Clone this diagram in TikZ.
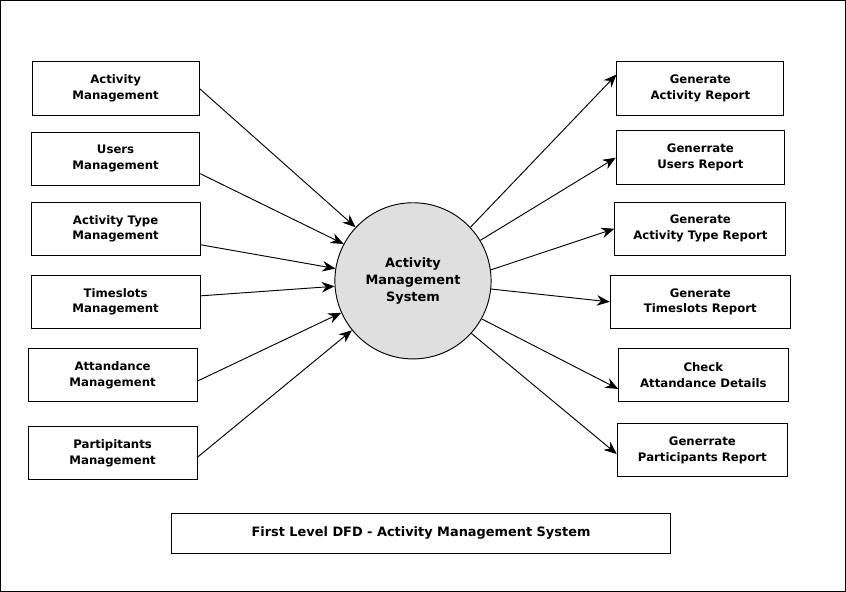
\documentclass[tikz,border=0pt]{standalone}
\usepackage{fontspec}
\setmainfont{DejaVu Sans}
\usetikzlibrary{shapes,arrows.meta,positioning}

\tikzset{
    proc/.style={rectangle, draw, thick, minimum width=5cm, minimum height=1.6cm, align=center, font=\bfseries\fontsize{10}{13.5}\selectfont},
    flow/.style={-{Stealth[length=11pt,width=9pt]}, thick}
}

\begin{document}
\begin{tikzpicture}[x=0.03cm, y=-0.03cm]
    % Frame
    \draw [thick] (1,1) rectangle (845,591);

    % Sources
    \node [proc, minimum width=5.0cm] (act) at (116,89) {Activity\\Management};
    \node [proc, minimum width=5.04cm] (usr) at (116,159) {Users\\Management};
    \node [proc, minimum width=5.07cm] (atype) at (116,229) {Activity Type\\Management};
    \node [proc, minimum width=5.07cm] (slot) at (116,302) {Timeslots\\Management};
    \node [proc, minimum width=5.07cm] (att) at (113,375) {Attandance\\Management};
    \node [proc, minimum width=5.07cm] (part) at (113,453) {Partipitants\\Management};

    % Process
    \node [circle, draw, thick, fill=gray!25, minimum size=4.68cm, align=center, font=\bfseries\fontsize{11}{14.5}\selectfont] (ams) at (413,281) {Activity\\Management\\System};

    % Reports
    \node [proc, minimum width=5.0cm] (ract) at (700,89) {Generate\\Activity Report};
    \node [proc, minimum width=5.04cm] (rusr) at (700,158) {Generrate\\Users Report};
    \node [proc, minimum width=5.13cm] (rtype) at (700,229) {Generate\\Activity Type Report};
    \node [proc, minimum width=5.4cm] (rslot) at (700,302) {Generate\\Timeslots Report};
    \node [proc, minimum width=5.07cm] (ratt) at (703,375) {Check\\Attandance Details};
    \node [proc, minimum width=5.1cm] (rpart) at (702,450) {Generrate\\Participants Report};

    % Title
    \node [rectangle, draw, thick, minimum width=14.97cm, minimum height=1.2cm, font=\bfseries\fontsize{11}{13}\selectfont] (title) at (421,533) {First Level DFD - Activity Management System};

    % Flows in
    \draw [flow] (act.east) -- (ams.137);
    \draw [flow] (usr.east) ++(0,15) -- (ams.152);
    \draw [flow] (atype.east) ++(0,16) -- (ams.171);
    \draw [flow] (slot.east) ++(0,-6) -- (ams.184);
    \draw [flow] (att.east) ++(0,6) -- (ams.204);
    \draw [flow] (part.east) ++(0,4) -- (ams.219);

    % Flows out
    \draw [flow] (ams.43) -- ([yshift=14*0.03cm]ract.west);
    \draw [flow] (ams.31) -- (rusr.west);
    \draw [flow] (ams.8) -- (rtype.west);
    \draw [flow] (ams.-6) -- (rslot.west);
    \draw [flow] (ams.-29) -- ([yshift=-14*0.03cm]ratt.west);
    \draw [flow] (ams.-42) -- ([yshift=-4*0.03cm]rpart.west);
\end{tikzpicture}
\end{document}
